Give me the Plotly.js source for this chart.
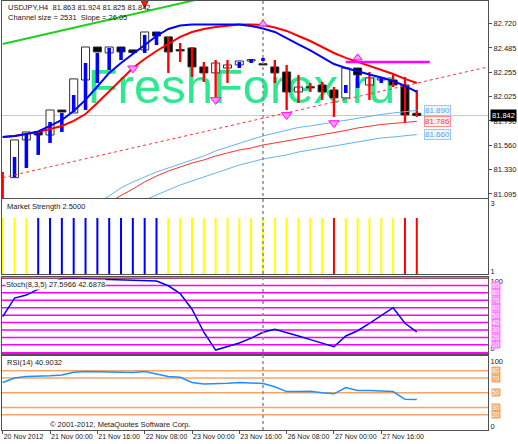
<!DOCTYPE html>
<html>
<head>
<meta charset="utf-8">
<script src="https://cdn.plot.ly/plotly-3.0.1.min.js"></script>
<style>html,body{margin:0;padding:0;background:#fff}#chart{width:518px;height:444px}</style>
</head>
<body>
<div id="chart"></div>
<script>
// ---------- DATA ----------
const barIndex = [0,1,2,3,4,5,6,7,8,9,10,11,12,13,14,15,16,17,18,19,20,21,22,23,24,25,26,27,28,29,30,31,32,33,34,35];
const timeTickIndex = [0,4,8,12,16,20,24,28,32];
const timeTickText = ["20 Nov 2012","21 Nov 00:00","21 Nov 16:00","22 Nov 08:00","23 Nov 00:00","23 Nov 16:00","26 Nov 08:00","27 Nov 00:00","27 Nov 16:00"];

const openP  = [null,81.250,81.609,81.685,81.656,81.894,81.866,82.180,82.494,82.437,82.494,82.466,82.466,82.637,82.590,82.470,82.485,82.304,82.247,82.294,82.323,82.361,82.332,82.304,82.256,82.066,82.113,82.132,82.085,82.009,82.294,82.132,82.180,82.180,82.132,81.863];
const closeP = [null,81.609,81.685,81.656,81.894,81.875,82.190,82.494,82.447,82.494,82.447,82.442,82.637,82.599,82.447,82.456,82.304,82.247,82.342,82.323,82.361,82.370,82.323,82.247,82.066,82.113,82.104,82.066,82.009,82.294,82.228,82.199,82.199,82.132,81.847,81.842];

const sigLow   = [81.037,81.256,81.342,81.466,81.580,81.685,81.875,81.894,82.151,82.275,82.370,82.432,82.437,82.513,82.247,82.351,82.209,82.161,82.018,82.151,82.294,82.342,82.361,82.151,81.894,81.961,82.066,81.990,81.828,82.056,82.104,81.990,82.151,82.113,81.770,81.828];
const sigHigh  = [81.304,81.447,81.676,81.685,81.780,81.866,82.037,82.342,82.437,82.485,82.485,82.451,82.609,82.637,82.590,82.532,82.494,82.351,82.370,82.370,82.351,82.380,82.390,82.370,82.323,82.228,82.151,82.161,82.113,82.132,82.228,82.256,82.199,82.228,82.209,82.085];
const sigColor = ["red","blue","blue","blue","blue","blue","blue","blue","blue","blue","blue","blue","blue","blue","red","red","red","red","red","red","blue","blue","blue","red","red","red","red","red","red","blue","blue","red","blue","red","red","red"];

const maFast = [81.637,81.647,81.666,81.690,81.742,81.799,81.885,81.990,82.118,82.247,82.342,82.428,82.513,82.599,82.666,82.699,82.709,82.710,82.710,82.710,82.709,82.694,82.670,82.637,82.575,82.518,82.461,82.399,82.332,82.294,82.261,82.232,82.204,82.170,82.123,82.066];
const maSlow = [81.637,81.647,81.666,81.685,81.713,81.742,81.790,81.856,81.961,82.075,82.190,82.294,82.380,82.456,82.523,82.590,82.637,82.666,82.685,82.699,82.709,82.709,82.704,82.680,82.647,82.599,82.551,82.494,82.437,82.390,82.351,82.313,82.275,82.237,82.190,82.151];

const bandUpperX = [8,9,10,11,12,13,14,15,16,17,18,19,20,21,22,23,24,25,26,27,28,29,30,31,32,33,34,35];
const bandUpper  = [81.009,81.076,81.152,81.209,81.256,81.304,81.342,81.380,81.418,81.456,81.504,81.542,81.580,81.613,81.647,81.676,81.704,81.728,81.742,81.761,81.780,81.799,81.818,81.837,81.851,81.866,81.878,81.890];
const bandMidX   = [9,10,11,12,13,14,15,16,17,18,19,20,21,22,23,24,25,26,27,28,29,30,31,32,33,34,35];
const bandMid    = [81.018,81.076,81.142,81.209,81.265,81.313,81.351,81.389,81.418,81.456,81.485,81.513,81.532,81.561,81.580,81.599,81.618,81.637,81.656,81.676,81.699,81.723,81.742,81.756,81.766,81.775,81.786];
const bandLowerX = [12,13,14,15,16,17,18,19,20,21,22,23,24,25,26,27,28,29,30,31,32,33,34,35];
const bandLower  = [81.037,81.085,81.132,81.180,81.218,81.256,81.294,81.332,81.370,81.399,81.427,81.447,81.466,81.494,81.513,81.532,81.551,81.570,81.590,81.609,81.628,81.637,81.647,81.660];
const bandLabels = ["81.890","81.786","81.660"];

const channelX     = [0, 41];
const channelUpper = [82.523, 83.577];
const channelLower = [81.250, 82.304];

const resistX = [29, 36.1];
const resistY = [82.351, 82.351];

const fractalDownX = [11, 18, 24, 28];
const fractalDownY = [82.291, 81.990, 81.847, 81.770];
const fractalUpX = [22, 30];
const fractalUpY = [82.713, 82.390];
const signalArrowX = [12];
const signalArrowY = [82.866];

const bidPrice = 81.842;
const priceTicks = [82.720, 82.485, 82.255, 82.025, 81.790, 81.560, 81.330, 81.095];

const msValues = [2.5,2.5,2.5,2.5,2.5,2.5,2.5,2.5,2.5,2.5,2.5,2.5,2.5,2.5,2.5,2.5,2.5,2.5,2.5,2.5,2.5,2.5,2.5,2.5,2.5,2.5,2.5,2.5,2.5,2.5,2.5,2.5,2.5,2.5,2.5,2.5];
const msColor  = ["yellow","yellow","yellow","blue","blue","blue","blue","blue","blue","blue","blue","blue","blue","blue","yellow","yellow","yellow","yellow","yellow","yellow","yellow","yellow","yellow","yellow","yellow","yellow","yellow","yellow","red","yellow","yellow","yellow","yellow","yellow","red","red"];

const stochMain = [48,73,77,85,93,99,99.6,99,98.6,98,97.3,97,96.5,96,89.5,79,58,27,3,7.5,12.5,19,27,31,27,22,17,12,7.5,22,29,39,50,60,39,27.6];
const stochLevels = [10,20,30,40,50,60,70,80,90];

const rsiValues = [64,70,72,72,73,74,78,79,78.5,77.5,77.5,77.5,79,76,72,71,64,62,62,63,64,63.5,62.5,58,51.5,51.5,52,50,48.5,57,53,53,52,51.5,41,40.9];
const rsiLevels = [80,70,50,30,20];

const separatorBars = [22];

// ---------- BUILD ----------
const FONT = "Liberation Sans, Arial, sans-serif";
const colorMap = {red:"#ff0000", blue:"#0000ff", yellow:"#ffff00"};

const bodyBase = [], bodyHeight = [], bodyFill = [];
barIndex.forEach((i) => {
  const o = openP[i], c = closeP[i];
  if (o === null) { bodyBase.push(null); bodyHeight.push(null); bodyFill.push("#fff"); return; }
  const lo = Math.min(o, c), hi = Math.max(o, c);
  bodyBase.push(lo);
  bodyHeight.push(Math.max(hi - lo, 0.012));
  bodyFill.push(c >= o ? "#ffffff" : "#000000");
});
const sigBase = sigLow.slice();
const sigHeight = sigHigh.map((h, k) => h - sigLow[k]);
const sigWidth = sigColor.map(c => c === "blue" ? 0.3 : 0.2);

const traces = [];
traces.push({type:"bar", x:barIndex, y:bodyHeight, base:bodyBase, width:0.68,
  marker:{color:bodyFill, line:{color:"#303030", width:1}}, xaxis:"x2", yaxis:"y", hoverinfo:"skip"});
traces.push({type:"bar", x:barIndex, y:sigHeight, base:sigBase, width:sigWidth,
  marker:{color:sigColor.map(c=>colorMap[c]), line:{width:0}}, xaxis:"x2", yaxis:"y", hoverinfo:"skip"});
traces.push({type:"scatter", mode:"lines", x:bandUpperX, y:bandUpper, line:{color:"#66b2f0", width:1}, xaxis:"x2", yaxis:"y"});
traces.push({type:"scatter", mode:"lines", x:bandMidX, y:bandMid, line:{color:"#ff3030", width:1}, xaxis:"x2", yaxis:"y"});
traces.push({type:"scatter", mode:"lines", x:bandLowerX, y:bandLower, line:{color:"#66b2f0", width:1}, xaxis:"x2", yaxis:"y"});
traces.push({type:"scatter", mode:"lines", x:channelX, y:channelUpper, line:{color:"#1ed01e", width:2}, xaxis:"x2", yaxis:"y"});
traces.push({type:"scatter", mode:"lines", x:channelX, y:channelLower, line:{color:"#ff3030", width:1, dash:"dot"}, xaxis:"x2", yaxis:"y"});
traces.push({type:"scatter", mode:"lines", x:barIndex, y:maSlow, line:{color:"#ff0000", width:2}, xaxis:"x2", yaxis:"y"});
traces.push({type:"scatter", mode:"lines", x:barIndex, y:maFast, line:{color:"#0000ff", width:2}, xaxis:"x2", yaxis:"y"});
traces.push({type:"scatter", mode:"lines", x:resistX, y:resistY, line:{color:"#ff00ff", width:2.5}, xaxis:"x2", yaxis:"y"});
traces.push({type:"scatter", mode:"markers", x:fractalDownX, y:fractalDownY, marker:{symbol:"triangle-down", size:9, color:"#ff9cff", line:{color:"#ff00ff", width:1}}, xaxis:"x2", yaxis:"y"});
traces.push({type:"scatter", mode:"markers", x:fractalUpX, y:fractalUpY, marker:{symbol:"triangle-up", size:8, color:"#ff9cff", line:{color:"#ff00ff", width:1}}, xaxis:"x2", yaxis:"y"});
traces.push({type:"scatter", mode:"markers", x:signalArrowX, y:signalArrowY, marker:{symbol:"arrow-down", size:16, color:"#ff1a1a", line:{color:"#cc0000", width:1}}, xaxis:"x2", yaxis:"y"});
traces.push({type:"bar", x:barIndex, y:msValues, width:0.17, marker:{color:msColor.map(c=>colorMap[c]), line:{width:0}}, xaxis:"x3", yaxis:"y2"});
traces.push({type:"scatter", mode:"lines", x:barIndex, y:stochMain, line:{color:"#0000ff", width:1.5}, xaxis:"x4", yaxis:"y3"});
traces.push({type:"scatter", mode:"lines", x:barIndex, y:rsiValues, line:{color:"#1e90ff", width:1.5}, xaxis:"x", yaxis:"y4"});

const shapes = [];
const annotations = [];
shapes.push({type:"rect", xref:"paper", yref:"paper", x0:0.177, x1:0.8086, y0:0.7576, y1:0.8695, layer:"below",
  line:{width:0}, fillcolor:"rgba(0,0,0,0)",
  label:{text:"FreshForex.ru", textposition:"middle center", font:{family:FONT, size:49, color:"#2de88e"}}});
shapes.push({type:"line", xref:"paper", yref:"y", x0:0, x1:1, y0:bidPrice, y1:bidPrice, line:{color:"#c8c8c8", width:1}, layer:"below"});
stochLevels.forEach(v => {
  shapes.push({type:"line", xref:"paper", yref:"y3", x0:0, x1:1, y0:v, y1:v, line:{color:"#ff00ff", width:1.5}, layer:"below"});
  annotations.push({xref:"paper", yref:"y3", x:1, y:v, xanchor:"left", yanchor:"middle", xshift:3, text:String(v), showarrow:false,
    bgcolor:"#ff80ff", font:{family:FONT, size:6.5, color:"#ffffff"}, borderpad:0});
});
shapes.push({type:"line", xref:"paper", yref:"y3", x0:0, x1:1, y0:-1.2, y1:-1.2, line:{color:"#ff00ff", width:2.5}});
shapes.push({type:"line", xref:"paper", yref:"y3", x0:0, x1:1, y0:100.3, y1:100.3, line:{color:"#7a1040", width:2}});
rsiLevels.forEach(v => {
  shapes.push({type:"line", xref:"paper", yref:"y4", x0:0, x1:1, y0:v, y1:v, line:{color:"#f5a56a", width:1.5}, layer:"below"});
  annotations.push({xref:"paper", yref:"y4", x:1, y:v, xanchor:"left", yanchor:"middle", xshift:3, text:String(v), showarrow:false,
    bgcolor:"#f5a56a", font:{family:FONT, size:6.5, color:"#ffffff"}, borderpad:0});
});
separatorBars.forEach(b => {
  shapes.push({type:"line", xref:"x", yref:"paper", x0:b, x1:b, y0:0, y1:1, line:{color:"#8c8c8c", width:1.5, dash:"dot"}});
});

const txt = (x, y, t, extra) => Object.assign({xref:"paper", yref:"paper", x:x, y:y, xanchor:"left", yanchor:"middle", text:t, showarrow:false,
  font:{family:FONT, size:7.5, color:"#202020"}}, extra || {});
annotations.push(txt(0.008, 0.9837, "USDJPY,H4  81.863 81.924 81.825 81.842"));
annotations.push(txt(0.008, 0.9627, "Channel size = 2531  Slope = 26.05"));
annotations.push(txt(0.006, 0.5221, "Market Strength 2.5000"));
annotations.push(txt(0.006, 0.3403, "Stoch(8,3,5) 27.5966 42.6878", {bgcolor:"#ffffff", borderpad:0}));
annotations.push(txt(0.006, 0.1585, "RSI(14) 40.9032"));
annotations.push(txt(0.0947, 0.0125, "© 2001-2012, MetaQuotes Software Corp."));
const bandStyle = [
  {c:"#5aa2e6", b:"#9ccaf2", bg:"#eef6fd", y:bandUpper[bandUpper.length-1]},
  {c:"#ff3a3a", b:"#ff8a8a", bg:"#fff0f0", y:bandMid[bandMid.length-1]},
  {c:"#5aa2e6", b:"#9ccaf2", bg:"#eef6fd", y:bandLower[bandLower.length-1]}];
bandStyle.forEach((s, k) => {
  annotations.push({xref:"x2", yref:"y", x:35.65, y:s.y, xanchor:"left", yanchor:"middle", text:bandLabels[k], showarrow:false,
    bgcolor:s.bg, bordercolor:s.b, borderwidth:1, borderpad:0, font:{family:FONT, size:8, color:s.c}});
});
annotations.push({xref:"paper", yref:"y", x:1, y:bidPrice, xanchor:"left", yanchor:"middle", xshift:2, text:bidPrice.toFixed(3), showarrow:false,
  bgcolor:"#000000", borderpad:1, font:{family:FONT, size:7.5, color:"#ffffff"}});

const axisLine = {showline:true, mirror:true, linecolor:"#505050", linewidth:1, showgrid:false, zeroline:false};
const xRange = [-0.06, 41.02];
const layout = {
  width:518, height:444,
  margin:{l:2, r:30, t:1, b:14},
  paper_bgcolor:"#ffffff", plot_bgcolor:"#ffffff",
  showlegend:false, barmode:"overlay",
  font:{family:FONT, size:7.5, color:"#202020"},
  xaxis: Object.assign({}, axisLine, {anchor:"y4", domain:[0,1], range:xRange, tickmode:"array", tickvals:timeTickIndex, ticktext:timeTickText,
    ticks:"outside", ticklen:3, tickcolor:"#505050", tickangle:0, ticklabelposition:"outside right", tickfont:{family:FONT, size:7, color:"#202020"}}),
  xaxis2: Object.assign({}, axisLine, {anchor:"y", matches:"x", range:xRange, showticklabels:false, ticks:""}),
  xaxis3: Object.assign({}, axisLine, {anchor:"y2", matches:"x", range:xRange, showticklabels:false, ticks:""}),
  xaxis4: Object.assign({}, axisLine, {anchor:"y3", matches:"x", range:xRange, showticklabels:false, ticks:""}),
  yaxis: Object.assign({}, axisLine, {anchor:"x2", domain:[0.5408, 1], range:[81.056, 82.932], side:"right",
    tickmode:"array", tickvals:priceTicks, ticktext:priceTicks.map(v=>v.toFixed(3)), ticks:"outside", ticklen:3, tickcolor:"#505050"}),
  yaxis2: Object.assign({}, axisLine, {anchor:"x3", domain:[0.3625, 0.5373], range:[1.013, 2.987], side:"right",
    tickmode:"array", tickvals:[2.895, 1.105], ticktext:["3","1"], ticks:""}),
  yaxis3: Object.assign({}, axisLine, {anchor:"x4", domain:[0.1772, 0.3555], range:[-2.29, 100.67], side:"right",
    tickmode:"array", tickvals:[95, 5.8], ticktext:["100","0"], ticks:""}),
  yaxis4: Object.assign({}, axisLine, {anchor:"x", domain:[0, 0.1725], range:[-0.8, 100], side:"right",
    tickmode:"array", tickvals:[93.2, 4.6], ticktext:["100","0"], ticks:""}),
  shapes: shapes,
  annotations: annotations
};

Plotly.newPlot("chart", traces, layout, {staticPlot:true, displayModeBar:false});
</script>
</body>
</html>
